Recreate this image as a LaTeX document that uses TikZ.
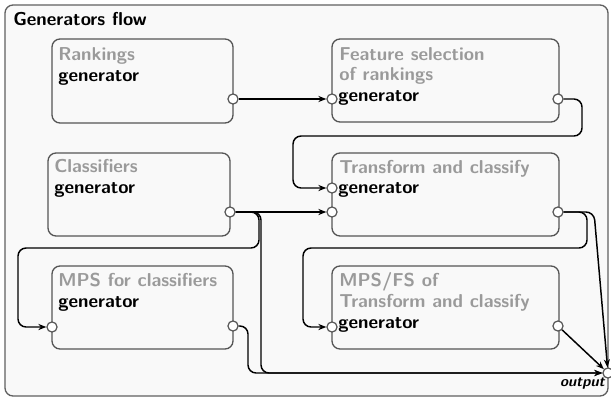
\documentclass[tikz,border=0pt]{standalone}
\usepackage{fontspec}
\usetikzlibrary{arrows.meta,fit}
\definecolor{bordergray}{HTML}{555555}
\definecolor{framegray}{HTML}{606060}
\definecolor{panelbg}{HTML}{F9F9F9}
\definecolor{labelgray}{HTML}{9A9A9A}
\tikzset{
  frame/.style={draw=framegray, fill=panelbg, line width=1pt, rounded corners=6pt, inner sep=0pt},
  genbox/.style={draw=bordergray, fill=panelbg, line width=1pt, rounded corners=6pt, inner sep=0pt},
  port/.style={circle, draw=bordergray, fill=white, line width=0.9pt, minimum size=7.6pt, inner sep=0pt},
  conn/.style={draw=black, line width=1.1pt, rounded corners=6pt, -{Stealth[length=6pt,width=4.6pt]}},
  graytxt/.style={anchor=base west, inner sep=0pt, text=labelgray, font=\sffamily\bfseries\fontsize{14}{16}\selectfont},
  gentxt/.style={anchor=base west, inner sep=0pt, text=black, font=\sffamily\bfseries\fontsize{14}{16}\selectfont},
}
\begin{document}
\begin{tikzpicture}[x=0.75pt,y=-0.75pt]
\useasboundingbox (0,0) rectangle (611,400);
% outer frame
\node[frame, fit={(5,5) (608,396)}] (frame) {};
\node[anchor=base west, inner sep=0pt, font=\sffamily\bfseries\fontsize{14}{16}\selectfont] (title) at (13,25) {Generators flow};

% boxes
\node[genbox, fit={(52,39) (233,123)}] (b1) {};
\node[genbox, fit={(332,39) (559,122)}] (b2) {};
\node[genbox, fit={(48,153) (230,236)}] (b3) {};
\node[genbox, fit={(332,153) (559,236)}] (b4) {};
\node[genbox, fit={(52,266) (233,349)}] (b5) {};
\node[genbox, fit={(332,266) (559,349)}] (b6) {};

% texts
\node[graytxt] (b1l1) at (58,60) {Rankings};
\node[gentxt]  (b1l2) at (58,81) {generator};

\node[graytxt] (b2l1) at (339,60) {Feature selection};
\node[graytxt] (b2l2) at (339,80) {of rankings};
\node[gentxt]  (b2l3) at (338,101) {generator};

\node[graytxt] (b3l1) at (54,172) {Classifiers};
\node[gentxt]  (b3l2) at (54,193) {generator};

\node[graytxt] (b4l1) at (339,173) {Transform and classify};
\node[gentxt]  (b4l2) at (338,193) {generator};

\node[graytxt] (b5l1) at (58,286) {MPS for classifiers};
\node[gentxt]  (b5l2) at (58,307) {generator};

\node[graytxt] (b6l1) at (339,286) {MPS/FS of};
\node[graytxt] (b6l2) at (339,307) {Transform and classify};
\node[gentxt]  (b6l3) at (338,328) {generator};

\node[anchor=base east, inner sep=0pt, font=\sffamily\bfseries\itshape\fontsize{11}{12}\selectfont] (outlabel) at (605,386) {output};

% ports
\node[port] (b1o) at (233,99) {};
\node[port] (b2i) at (332,99) {};
\node[port] (b2o) at (558,99) {};
\node[port] (b3o) at (230,212) {};
\node[port] (b4i1) at (332,188) {};
\node[port] (b4i2) at (332,212) {};
\node[port] (b4o) at (558,212) {};
\node[port] (b5i) at (52,327) {};
\node[port] (b5o) at (233,326) {};
\node[port] (b6i) at (332,327) {};
\node[port] (b6o) at (558,326) {};
\node[port] (out) at (608,373) {};

% connectors
\draw[conn] (b1o) -- (b2i);
\draw[conn] (b2o) -- (582,99) -- (582,136) -- (293,136) -- (293,188) -- (b4i1);
\draw[conn] (b3o) -- (b4i2);
\draw[conn] (b3o) -- (259,212) -- (259,248) -- (18,248) -- (18,327) -- (b5i);
\draw[conn] (b3o) -- (261,212) |- (out);
\draw[conn] (b5o) -- (248,326) |- (out);
\draw[conn] (b4o) -- (587,212) -- (587,248) -- (303,248) -- (303,327) -- (b6i);
\draw[conn] (b4o) -- (594,212) -- (out);
\draw[conn] (b6o) -- (out);
\end{tikzpicture}
\end{document}
